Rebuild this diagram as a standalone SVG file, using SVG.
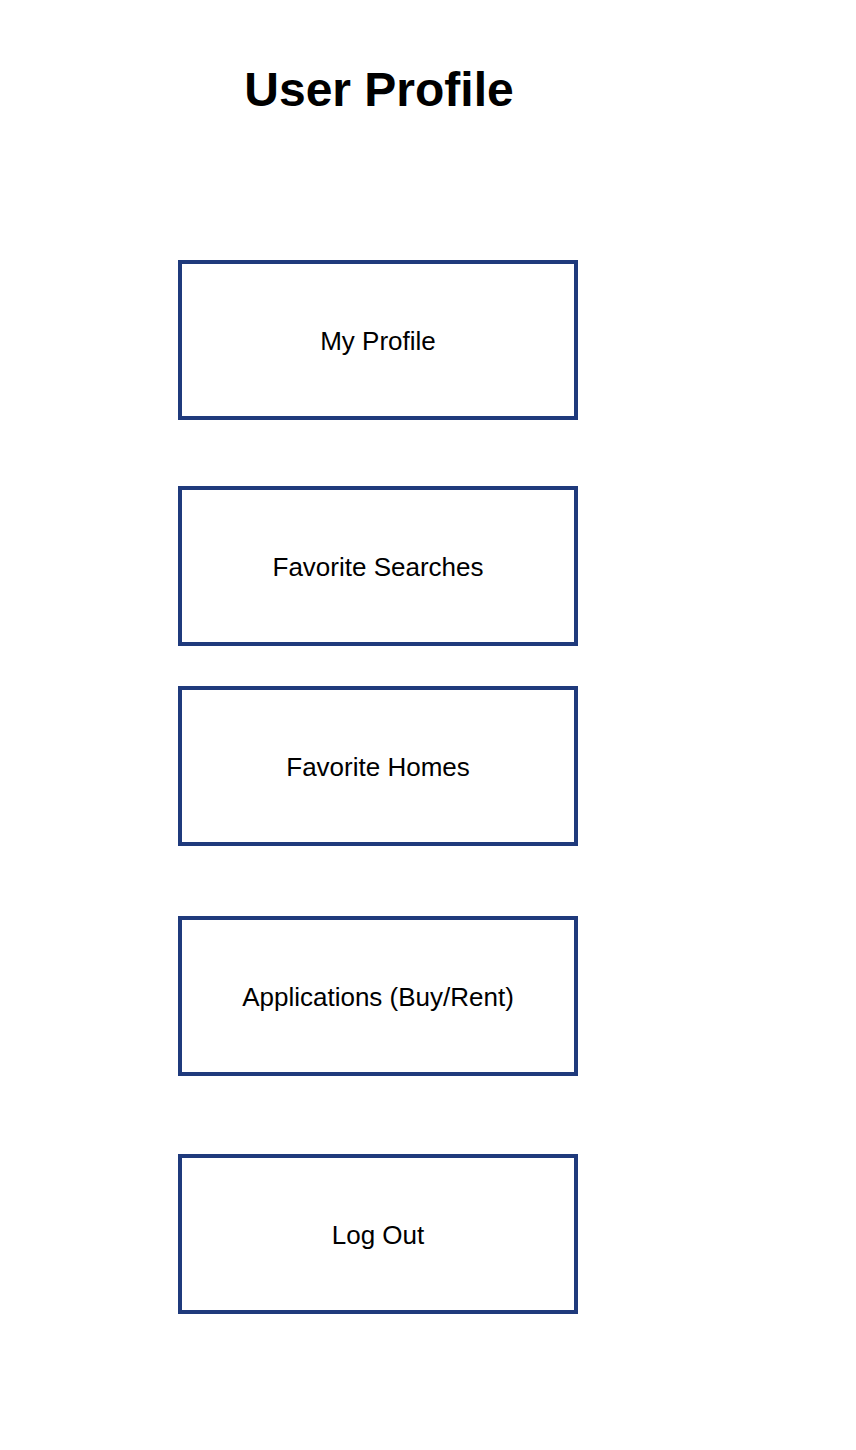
<svg xmlns="http://www.w3.org/2000/svg" width="856" height="1450" viewBox="0 0 856 1450">
<style>
.box{fill:#ffffff;stroke:#1f3a7c;stroke-width:4}
.lbl{font-family:"Liberation Sans",Arial,sans-serif;font-size:26px;fill:#000000;text-anchor:middle}
.title{font-family:"Liberation Sans",Arial,sans-serif;font-size:48px;font-weight:bold;fill:#000000;text-anchor:middle}
</style>
<rect width="856" height="1450" fill="#ffffff"/>
<text class="title" x="379" y="106">User Profile</text>
<g id="connectors"></g>
<g id="my-profile"><rect class="box" x="180" y="262" width="396" height="156"/><text class="lbl" x="378" y="350">My Profile</text></g>
<g id="favorite-searches"><rect class="box" x="180" y="488" width="396" height="156"/><text class="lbl" x="378" y="576">Favorite Searches</text></g>
<g id="favorite-homes"><rect class="box" x="180" y="688" width="396" height="156"/><text class="lbl" x="378" y="776">Favorite Homes</text></g>
<g id="applications"><rect class="box" x="180" y="918" width="396" height="156"/><text class="lbl" x="378" y="1006">Applications (Buy/Rent)</text></g>
<g id="log-out"><rect class="box" x="180" y="1156" width="396" height="156"/><text class="lbl" x="378" y="1244">Log Out</text></g>
</svg>
